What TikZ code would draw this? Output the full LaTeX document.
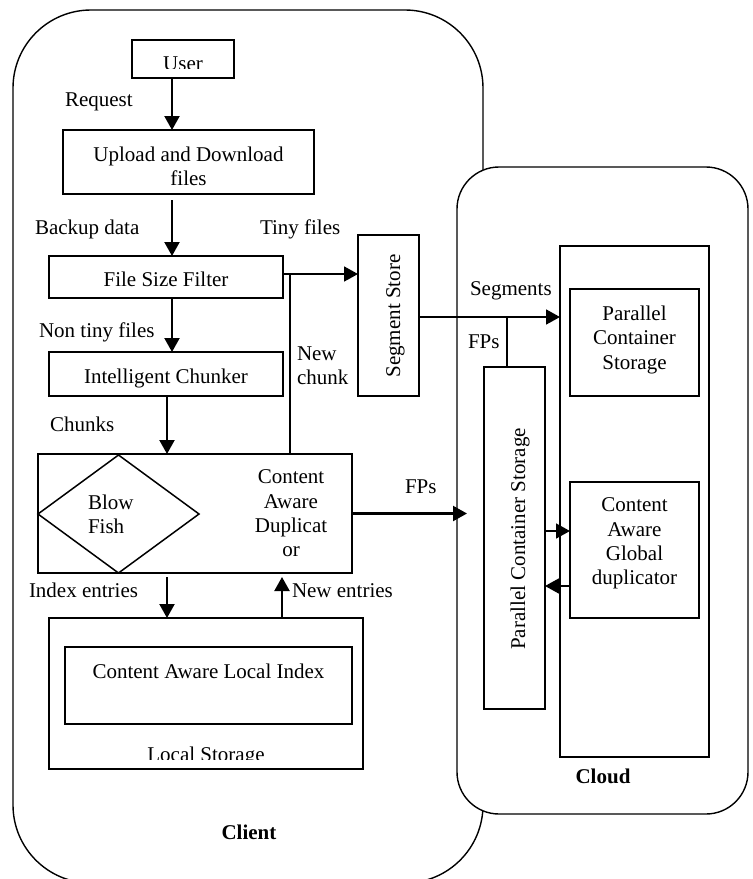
\documentclass[tikz,border=0pt]{standalone}
\usepackage{fontspec}
\setmainfont{Liberation Serif}
\usetikzlibrary{arrows.meta,shapes.geometric}
\begin{document}
\begin{tikzpicture}[x=1pt,y=-1pt,
  every node/.style={inner sep=0pt,outer sep=0pt,font=\fontsize{21}{24.3}\selectfont},
  box/.style={draw,line width=1.5pt,rectangle},
  arr/.style={line width=2.2pt,-{Triangle[length=14pt,width=15pt]}},
  thinline/.style={line width=1.4pt},
  lbl/.style={anchor=base},
  lblw/.style={anchor=base west}]
\useasboundingbox (0,0) rectangle (753,879);
\fill[white] (0,0) rectangle (753,879);
% containers
\node[box,line width=1.4pt,rounded corners=78pt,minimum width=470pt,minimum height=873pt] (client) at (248,446.5) {};
\node[box,line width=1.4pt,fill=white,rounded corners=42pt,minimum width=291pt,minimum height=647pt] (cloud) at (602.5,490.5) {};
% client boxes
\node[box,minimum width=102pt,minimum height=38pt] (user) at (183,59) {};
\begin{scope}
  \clip (133,41) rectangle (233,68.5);
  \node[lbl] at (183,70) {User};
\end{scope}
\node[box,minimum width=251pt,minimum height=64pt] (upload) at (188.5,162) {};
\node[align=center] at (188.5,166.5) {Upload and Download\\files};
\node[box,minimum width=234pt,minimum height=42pt] (fsf) at (166,277) {};
\node[lbl] at (166,286) {File Size Filter};
\node[box,minimum width=234pt,minimum height=44pt] (ic) at (166,374) {};
\node[lbl] at (166,383) {Intelligent Chunker};
\node[box,minimum width=61pt,minimum height=161pt] (seg) at (388.5,315.5) {};
\node[rotate=90,anchor=base] at (400,316) {Segment Store};
\node[box,minimum width=314pt,minimum height=119pt] (cad) at (195,513.5) {};
\node[draw,diamond,line width=1.5pt,minimum width=161pt,minimum height=118pt] (fish) at (118.5,514) {};
\node[anchor=west,align=left] at (88,514) {Blow\\Fish};
\node[align=center] at (291,513.4) {Content\\Aware\\Duplicat\\or};
\node[box,minimum width=314pt,minimum height=151pt] (ls) at (206,693.5) {};
\node[box,minimum width=287pt,minimum height=77pt] (cali) at (208.5,685.5) {};
\node[lbl] at (208.5,678) {Content Aware Local Index};
\begin{scope}
  \clip (50,740) rectangle (362,759.3);
  \node[lbl] at (206,761) {Local Storage};
\end{scope}
% cloud boxes
\node[box,minimum width=149pt,minimum height=511pt] (big) at (634.5,501.5) {};
\node[box,minimum width=129pt,minimum height=107pt] (pcs) at (634.5,342.5) {};
\node[align=center] at (634.5,339.7) {Parallel\\Container\\Storage};
\node[box,minimum width=61pt,minimum height=342pt] (vpcs) at (514.5,538) {};
\node[rotate=90,anchor=base] at (525,539) {Parallel Container Storage};
\node[box,minimum width=129pt,minimum height=136pt] (cagd) at (634.5,550) {};
\node[align=center] at (634.5,543.6) {Content\\Aware\\Global\\duplicator};
% helper coordinates
\coordinate (x172) at (172,0);
\coordinate (x167) at (167,0);
\coordinate (x290) at (290,0);
\coordinate (x282) at (282,0);
\coordinate (x507) at (507,0);
\coordinate (y274) at (0,274);
\coordinate (y317) at (0,317);
\coordinate (y531) at (0,531);
\coordinate (y586) at (0,586);
\coordinate (fpend) at (467,513.5);
% connectors
\draw[arr] (user.south -| x172) -- (upload.north -| x172);
\draw[arr,shorten <=6pt] (upload.south -| x172) -- (fsf.north -| x172);
\draw[arr] (fsf.south -| x172) -- (ic.north -| x172);
\draw[arr] (ic.south -| x167) -- (cad.north -| x167);
\draw[arr,line width=1.8pt] (fsf.east |- y274) -- (seg.west |- y274);
\draw[thinline] (cad.north -| x290) -- (x290 |- y274);
\draw[arr,line width=1.8pt] (seg.east |- y317) -- (big.west |- y317);
\draw[thinline] (vpcs.north -| x507) -- (x507 |- y317);
\draw[arr] (cad.east) -- (fpend);
\draw[arr,line width=1.7pt] (vpcs.east |- y531) -- (cagd.west |- y531);
\draw[arr,line width=1.7pt] (cagd.west |- y586) -- (vpcs.east |- y586);
\draw[arr,shorten <=4pt] (cad.south -| x167) -- (ls.north -| x167);
\draw[arr,shorten >=4pt] (ls.north -| x282) -- (cad.south -| x282);
% labels
\node[lblw] at (65,106) {Request};
\node[lblw] at (35,234) {Backup data};
\node[lblw] at (260,234) {Tiny files};
\node[lblw] at (39,337) {Non tiny files};
\node[lblw] at (50,431) {Chunks};
\node[anchor=west,align=left] at (297,366) {New\\chunk};
\node[lblw] at (470,295) {Segments};
\node[lblw] at (468,348) {FPs};
\node[lblw] at (405,493) {FPs};
\node[lblw] at (29,597) {Index entries};
\node[lblw] at (292,597) {New entries};
\node[lbl] at (249,839) {\bfseries Client};
\node[lbl] at (603,783) {\bfseries Cloud};
\end{tikzpicture}
\end{document}
